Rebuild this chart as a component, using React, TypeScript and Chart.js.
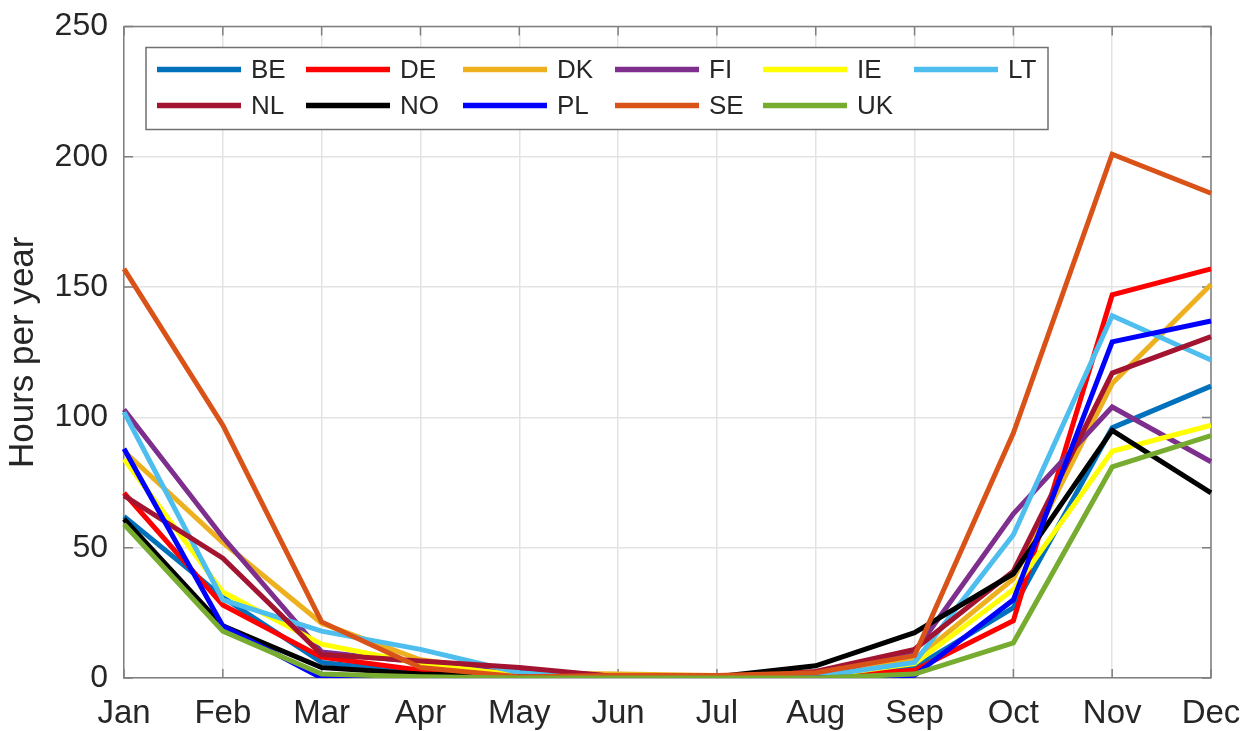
import React, { useEffect, useRef } from "react";
import { Chart, registerables } from "chart.js";

Chart.register(...registerables);

// ---------- data ----------
const months = ["Jan", "Feb", "Mar", "Apr", "May", "Jun", "Jul", "Aug", "Sep", "Oct", "Nov", "Dec"];
const countries = ["BE", "DE", "DK", "FI", "IE", "LT", "NL", "NO", "PL", "SE", "UK"];

const BE = [62, 31, 6, 2, 1, 0, 0, 0.5, 4, 27, 96, 112];
const DE = [71, 28, 8, 3, 1, 0, 0, 0.5, 3, 22, 147, 157];
const DK = [87, 52, 21, 7, 2, 1.5, 1, 0.5, 7, 38, 113, 151];
const FI = [103, 54, 10, 6, 3.5, 0.5, 0, 1, 10, 63, 104, 83];
const IE = [84, 33, 13, 5.5, 1, 0, 0, 0.5, 5.5, 34, 87, 97];
const LT = [102, 30, 18, 11, 2, 0, 0, 0.5, 6, 55, 139, 122];
const NL = [70, 46, 9, 6.5, 4, 0.5, 0.5, 2.5, 11, 41, 117, 131];
const NO = [61, 20, 4, 1.5, 0.5, 0, 0.5, 4.7, 17.4, 40, 95, 71];
const PL = [88, 20, 0, 0, 0, 0, 0, 0, 1, 30, 129, 137];
const SE = [157, 97, 21.5, 4, 0.5, 1, 1, 2, 8.6, 94, 201, 186];
const UK = [59, 18, 1.5, 0.5, 0, 0, 0, 0, 1.5, 13.5, 81, 93];

const seriesValues = [BE, DE, DK, FI, IE, LT, NL, NO, PL, SE, UK];
const seriesColors = [
  "#0072BD", "#FF0000", "#EDB120", "#7E2F8E", "#FFFF00", "#4DBEEE",
  "#A2142F", "#000000", "#0000FF", "#D95319", "#77AC30",
];

const yMin = 0;
const yMax = 250;
const yStep = 50;
const yAxisTitle = "Hours per year";

// ---------- styling ----------
const FONT = "'Liberation Sans', Arial, Helvetica, sans-serif";
const TEXT = "#262626";
const AXIS = "#808080";
const GRID = "#e3e3e3";

const framePlugin = {
  id: "matlabFrame",
  beforeDatasetsDraw(chart: any) {
    const { ctx, chartArea: a, scales } = chart;
    ctx.save();
    ctx.strokeStyle = AXIS;
    ctx.lineWidth = 1.5;
    ctx.beginPath();
    ctx.moveTo(a.left, a.top);
    ctx.lineTo(a.right, a.top);
    ctx.lineTo(a.right, a.bottom);
    ctx.stroke();
    const tl = 9;
    ctx.beginPath();
    const xs = scales.x;
    xs.ticks.forEach((_: any, i: number) => {
      const px = xs.getPixelForTick(i);
      ctx.moveTo(px, a.bottom);
      ctx.lineTo(px, a.bottom - tl);
      ctx.moveTo(px, a.top);
      ctx.lineTo(px, a.top + tl);
    });
    const ys = scales.y;
    ys.ticks.forEach((_: any, i: number) => {
      const py = ys.getPixelForTick(i);
      ctx.moveTo(a.left, py);
      ctx.lineTo(a.left + tl, py);
      ctx.moveTo(a.right, py);
      ctx.lineTo(a.right - tl, py);
    });
    ctx.stroke();
    ctx.restore();
  },
};

const legendPlugin = {
  id: "matlabLegend",
  afterDraw(chart: any) {
    const { ctx, chartArea: a } = chart;
    const left = a.left + 22;
    const top = a.top + 21;
    const w = 902;
    const h = 82;
    ctx.save();
    ctx.fillStyle = "#ffffff";
    ctx.fillRect(left, top, w, h);
    ctx.strokeStyle = "#707070";
    ctx.lineWidth = 1.5;
    ctx.strokeRect(left, top, w, h);
    const colX = [11, 160, 317, 469, 617, 768];
    const rowY = [22, 58];
    const lineLen = 84;
    ctx.font = `26px ${FONT}`;
    ctx.textBaseline = "middle";
    ctx.textAlign = "left";
    chart.data.datasets.forEach((ds: any, i: number) => {
      const col = i % 6;
      const row = Math.floor(i / 6);
      const x0 = left + colX[col];
      const y0 = top + rowY[row];
      ctx.strokeStyle = ds.borderColor;
      ctx.lineWidth = 5.5;
      ctx.beginPath();
      ctx.moveTo(x0, y0);
      ctx.lineTo(x0 + lineLen, y0);
      ctx.stroke();
      ctx.fillStyle = TEXT;
      ctx.fillText(ds.label, x0 + lineLen + 10, y0 + 1);
    });
    ctx.restore();
  },
};

export default function App() {
  const canvasRef = useRef<HTMLCanvasElement | null>(null);

  useEffect(() => {
    document.body.style.margin = "0";
    document.body.style.overflow = "hidden";
    const canvas = canvasRef.current;
    if (!canvas) return;
    const datasets = countries.map((name, i) => ({
      label: name,
      data: seriesValues[i],
      borderColor: seriesColors[i],
      backgroundColor: seriesColors[i],
      borderWidth: 5,
      pointRadius: 0,
      pointHoverRadius: 0,
      tension: 0,
      fill: false,
      order: countries.length - i,
    }));
    const chart = new Chart(canvas, {
      type: "line",
      data: { labels: months, datasets },
      options: {
        animation: false,
        responsive: true,
        maintainAspectRatio: false,
        events: [],
        layout: { padding: { top: 26.5, right: 32, bottom: 0, left: 0 } },
        plugins: {
          legend: { display: false },
          tooltip: { enabled: false },
        },
        scales: {
          x: {
            type: "category",
            offset: false,
            grid: { color: GRID, lineWidth: 1.5, drawTicks: false },
            border: { display: true, color: AXIS, width: 1.5 },
            ticks: {
              color: TEXT,
              font: { family: FONT, size: 33 },
              padding: 16,
              maxRotation: 0,
              autoSkip: false,
            },
            afterFit(scale: any) {
              scale.height = 53;
              scale.paddingLeft = 0;
              scale.paddingRight = 0;
            },
          },
          y: {
            min: yMin,
            max: yMax,
            grid: { color: GRID, lineWidth: 1.5, drawTicks: false },
            border: { display: true, color: AXIS, width: 1.5 },
            ticks: {
              stepSize: yStep,
              color: TEXT,
              font: { family: FONT, size: 32 },
              padding: 16,
            },
            title: {
              display: true,
              text: yAxisTitle,
              color: TEXT,
              font: { family: FONT, size: 35 },
              padding: { top: 2, bottom: 0 },
            },
            afterFit(scale: any) {
              scale.width = 124;
              scale.paddingTop = 0;
              scale.paddingBottom = 0;
            },
          },
        },
      },
      plugins: [framePlugin, legendPlugin],
    });
    return () => chart.destroy();
  }, []);

  return (
    <div style={{ position: "relative", width: "1243px", height: "731px" }}>
      <canvas ref={canvasRef} />
    </div>
  );
}
